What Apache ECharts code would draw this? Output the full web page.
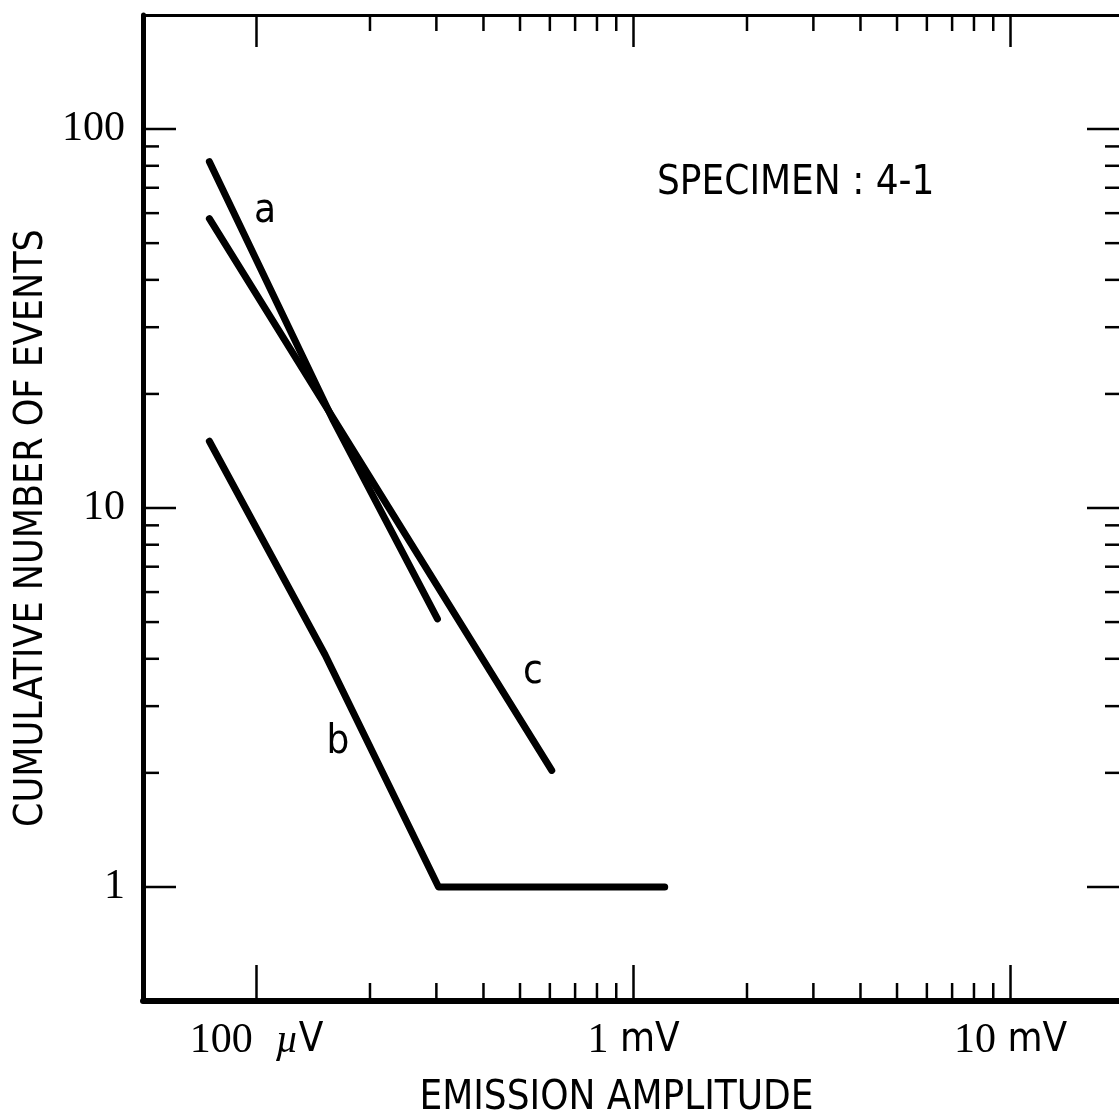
<!DOCTYPE html>
<html><head><meta charset="utf-8">
<script src="https://cdn.jsdelivr.net/npm/echarts@6/dist/echarts.min.js"></script>
<style>html,body{margin:0;padding:0;background:#fff}#c{width:1119px;height:1120px}</style>
</head><body><div id="c"></div>
<script>
// ---- data ----
const aX = [75, 160, 302];
const aY = [82, 17, 5.1];
const bX = [75, 152, 304, 1210];
const bY = [15, 4.1, 1, 1];
const cX = [75, 607];
const cY = [58, 2.03];
const xMajorTicks = [100, 1000, 10000];
const xMinorTicks = [200, 300, 400, 500, 600, 700, 800, 900, 2000, 3000, 4000, 5000, 6000, 7000, 8000, 9000];
const yMajorTicks = [1, 10, 100];
const yMinorTicks = [2, 3, 4, 5, 6, 7, 8, 9, 20, 30, 40, 50, 60, 70, 80, 90];
const xTickNumbers = ['100', '1', '10'];
const xTickUnits = ['µ', 'm', 'm'];
const yTickLabels = ['1', '10', '100'];
const xRange = [50, 20000];
const yRange = [0.5, 200];
const curveNames = ['a', 'b', 'c'];
const specimen = 'SPECIMEN : 4-1';

// ---- styles ----
const SANS = "'Liberation Sans Narrow','DejaVu Sans Condensed','Roboto Condensed','Liberation Sans',sans-serif";
const SERIF = "'Liberation Serif',serif";

function isPow(v, list) {
  for (let i = 0; i < list.length; i++) if (Math.abs(Math.log10(v) - Math.log10(list[i])) < 1e-6) return i;
  return -1;
}

const tickItems = [];
const tickKinds = [];
xMajorTicks.forEach(v => { tickItems.push([v, yRange[0]]); tickKinds.push({axis: 'x', major: true}); });
xMinorTicks.forEach(v => { tickItems.push([v, yRange[0]]); tickKinds.push({axis: 'x', major: false}); });
yMajorTicks.forEach(v => { tickItems.push([xRange[0], v]); tickKinds.push({axis: 'y', major: true}); });
yMinorTicks.forEach(v => { tickItems.push([xRange[0], v]); tickKinds.push({axis: 'y', major: false}); });

const lineStyle = {color: '#000', width: 7, cap: 'round', join: 'round'};
function mk(xs, ys) { return xs.map((x, i) => [x, ys[i]]); }

const chart = echarts.init(document.getElementById('c'), null, {renderer: 'canvas'});
chart.setOption({
  animation: false,
  backgroundColor: '#fff',
  grid: {left: 143, top: 15, width: 981, height: 986, containLabel: false, outerBoundsMode: 'none'},
  xAxis: [{
    type: 'log', logBase: 10, min: xRange[0], max: xRange[1], position: 'bottom',
    axisLine: {show: true, lineStyle: {color: '#000', width: 6}},
    axisTick: {show: false}, minorTick: {show: false}, splitLine: {show: false},
    axisLabel: {
      margin: 19,
      formatter: function (v) {
        const i = isPow(v, xMajorTicks);
        if (i < 0) return '';
        if (i === 0) return '{n|' + xTickNumbers[i] + '}{u|  }{mu|' + xTickUnits[i] + '}{u|V}';
        return '{n|' + xTickNumbers[i] + '}{u| ' + xTickUnits[i] + 'V}';
      },
      rich: {
        n: {fontFamily: SERIF, fontSize: 42, color: '#000'},
        mu: {fontFamily: SERIF, fontStyle: 'italic', fontSize: 40, color: '#000'},
        u: {fontFamily: SANS, fontSize: 40, color: '#000'}
      }
    },
    name: 'EMISSION AMPLITUDE', nameLocation: 'middle', nameGap: 78,
    nameTextStyle: {fontFamily: SANS, fontSize: 40, color: '#000', padding: [0, 34, 0, 0]}
  }, {
    type: 'log', logBase: 10, min: xRange[0], max: xRange[1], position: 'top',
    axisLine: {show: true, lineStyle: {color: '#000', width: 3}},
    axisTick: {show: false}, axisLabel: {show: false}, splitLine: {show: false}
  }],
  yAxis: [{
    type: 'log', logBase: 10, min: yRange[0], max: yRange[1], position: 'left',
    axisLine: {show: true, lineStyle: {color: '#000', width: 5}},
    axisTick: {show: false}, minorTick: {show: false}, splitLine: {show: false},
    axisLabel: {
      margin: 18, fontFamily: SERIF, fontSize: 42, color: '#000',
      formatter: function (v) { const i = isPow(v, yMajorTicks); return i < 0 ? '' : yTickLabels[i]; }
    },
    name: 'CUMULATIVE NUMBER OF EVENTS', nameLocation: 'middle', nameGap: 86,
    nameTextStyle: {fontFamily: SANS, fontSize: 39, color: '#000', padding: [0, 40, 0, 0]}
  }, {
    type: 'log', logBase: 10, min: yRange[0], max: yRange[1], position: 'right',
    axisLine: {show: true, lineStyle: {color: '#000', width: 3}},
    axisTick: {show: false}, axisLabel: {show: false}, splitLine: {show: false}
  }],
  graphic: [
    {type: 'text', x: 657, y: 184, silent: true, style: {text: specimen, font: '40px ' + SANS, fill: '#000', align: 'left', verticalAlign: 'middle'}},
    {type: 'text', x: 265, y: 212, silent: true, style: {text: curveNames[0], font: '40px ' + SANS, fill: '#000', align: 'center', verticalAlign: 'middle'}},
    {type: 'text', x: 338, y: 743, silent: true, style: {text: curveNames[1], font: '40px ' + SANS, fill: '#000', align: 'center', verticalAlign: 'middle'}},
    {type: 'text', x: 533, y: 673, silent: true, style: {text: curveNames[2], font: '40px ' + SANS, fill: '#000', align: 'center', verticalAlign: 'middle'}}
  ],
  series: [
    {type: 'line', name: 'a', data: mk(aX, aY), symbol: 'none', showSymbol: false, lineStyle: lineStyle, silent: true},
    {type: 'line', name: 'b', data: mk(bX, bY), symbol: 'none', showSymbol: false, lineStyle: lineStyle, silent: true},
    {type: 'line', name: 'c', data: mk(cX, cY), symbol: 'none', showSymbol: false, lineStyle: lineStyle, silent: true},
    {
      type: 'custom', name: 'ticks', data: tickItems, clip: false, silent: true,
      renderItem: function (params, api) {
        const cs = params.coordSys;
        const k = tickKinds[params.dataIndex];
        const st = {stroke: '#000', lineWidth: 2.5};
        const children = [];
        if (k.axis === 'x') {
          const px = api.coord([api.value(0), api.value(1)])[0];
          const lb = k.major ? 36 : 18, lt = k.major ? 32 : 16;
          const yb = cs.y + cs.height, yt = cs.y;
          children.push({type: 'line', shape: {x1: px, y1: yb, x2: px, y2: yb - lb}, style: st});
          children.push({type: 'line', shape: {x1: px, y1: yt, x2: px, y2: yt + lt}, style: st});
        } else {
          const py = api.coord([api.value(0), api.value(1)])[1];
          const ll = k.major ? 33 : 16, lr = k.major ? 37 : 19;
          const xl = cs.x, xr = cs.x + cs.width;
          children.push({type: 'line', shape: {x1: xl, y1: py, x2: xl + ll, y2: py}, style: st});
          children.push({type: 'line', shape: {x1: xr, y1: py, x2: xr - lr, y2: py}, style: st});
        }
        return {type: 'group', children: children};
      }
    }
  ]
});
</script>
</body></html>
